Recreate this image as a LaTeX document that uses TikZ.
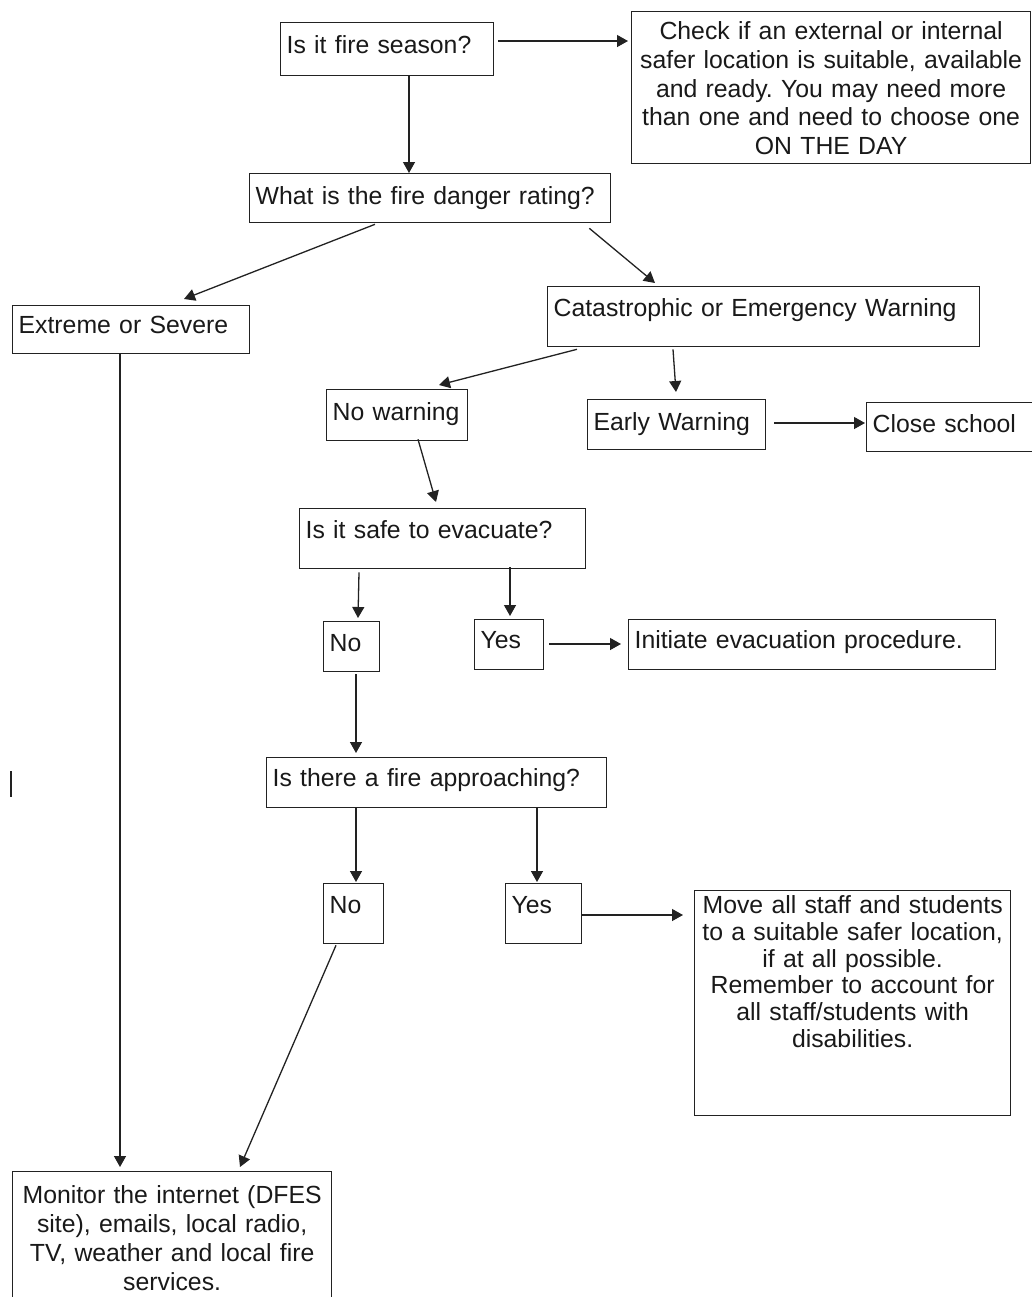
\documentclass[tikz,border=0pt]{standalone}
\usepackage{fontspec}
\setmainfont{Liberation Sans}
\usepackage{tikz}
\usetikzlibrary{calc,arrows.meta}
\definecolor{inkline}{RGB}{34,34,34}
\definecolor{inktext}{RGB}{25,25,25}
\frenchspacing

\begin{document}
\begin{tikzpicture}[x=0.5pt,y=-0.5pt,
  cell/.style={draw=inkline,line width=0.65pt,anchor=north west,inner xsep=3pt,inner ysep=0pt,
               align=left,text=inktext,font=\fontsize{12.4}{14.4}\selectfont},
  ccell/.style={cell,align=center},
  arr/.style={draw=inkline,line width=0.65pt,-{Triangle[length=5.5pt,width=6pt]}}]
  \useasboundingbox (0,0) rectangle (1032,1297);
  \node[cell,text width=100.5pt,text height=15.5pt,text depth=11pt] (season) at (280,22) {Is it fire season?};
  \node[ccell,text width=193.5pt,text height=14pt,text depth=62pt,font=\fontsize{12.4}{14.35}\selectfont] (check) at (631,11)
    {Check if an external or internal\\safer location is suitable, available\\and ready. You may need more\\than one and need to choose one\\ON THE DAY};
  \node[cell,text width=174.5pt,text height=15.5pt,text depth=9pt] (danger) at (249,173) {What is the fire danger rating?};
  \node[cell,text width=112.5pt,text height=14pt,text depth=10pt] (extreme) at (12,305) {Extreme or Severe};
  \node[cell,text width=210pt,text height=15pt,text depth=15pt] (cat) at (547,286) {Catastrophic or Emergency Warning};
  \node[cell,text width=64.5pt,text height=15.5pt,text depth=10pt] (nowarn) at (326,389) {No warning};
  \node[cell,text width=83pt,text height=15.5pt,text depth=9.5pt] (early) at (587,399) {Early Warning};
  \node[cell,text width=81pt,text height=15pt,text depth=9.5pt] (close) at (866,402) {Close school};
  \node[cell,text width=137pt,text height=15pt,text depth=15pt] (safe) at (299,508) {Is it safe to evacuate?};
  \node[cell,text width=22pt,text height=15pt,text depth=10pt] (nosafe) at (323,621) {No};
  \node[cell,text width=28.5pt,text height=14.5pt,text depth=10.5pt] (yessafe) at (474,619) {Yes};
  \node[cell,text width=177.5pt,text height=14.5pt,text depth=10.5pt] (initiate) at (628,619) {Initiate evacuation procedure.};
  \node[cell,text width=164pt,text height=14.5pt,text depth=10.5pt] (approach) at (266,757) {Is there a fire approaching?};
  \node[cell,text width=24pt,text height=15pt,text depth=15pt] (nofire) at (323,883) {No};
  \node[cell,text width=32pt,text height=15pt,text depth=15pt] (yesfire) at (505,883) {Yes};
  \node[ccell,text width=152pt,text height=11.5pt,text depth=101pt,font=\fontsize{12.4}{13.35}\selectfont] (move) at (694,890)
    {Move all staff and students\\to a suitable safer location,\\if at all possible.\\Remember to account for\\all staff/students with\\disabilities.};
  \node[ccell,text width=153.5pt,text height=16pt,text depth=54pt,font=\fontsize{12.4}{14.5}\selectfont] (monitor) at (12,1171)
    {Monitor the internet (DFES\\site), emails, local radio,\\TV, weather and local fire\\services.};
  \draw[arr] ($(season.north east)+(4,19)$) -- ($(check.north west)+(-3,30)$);
  \draw[arr] ($(season.south west)+(129,0)$) -- ($(danger.north west)+(160,0)$);
  \draw[arr] ($(danger.south west)+(126,1)$) -- ($(extreme.north west)+(172,-6)$);
  \draw[arr] ($(danger.south east)+(-22,5)$) -- ($(cat.north west)+(108,-3)$);
  \draw[arr] ($(extreme.south west)+(108,0)$) -- ($(monitor.north west)+(108,-4)$);
  \draw[arr] ($(cat.south west)+(30,2)$) -- ($(nowarn.north west)+(113,-4)$);
  \draw[arr] ($(cat.south west)+(126,2)$) -- ($(early.north west)+(89,-7)$);
  \draw[arr] ($(early.north east)+(8,24)$) -- ($(close.north west)+(-1,21)$);
  \draw[arr] ($(nowarn.south west)+(92,-2)$) -- ($(safe.north west)+(137,-6)$);
  \draw[arr] ($(safe.south west)+(60,3)$) -- ($(nosafe.north west)+(35,-3)$);
  \draw[arr] ($(safe.south west)+(211,-2)$) -- ($(yessafe.north west)+(36,-3)$);
  \draw[arr] ($(yessafe.north east)+(5,25)$) -- ($(initiate.north west)+(-7,25)$);
  \draw[arr] ($(nosafe.south west)+(33,2)$) -- ($(approach.north west)+(90,-4)$);
  \draw[arr] ($(approach.south west)+(90,0)$) -- ($(nofire.north west)+(33,-1)$);
  \draw[arr] ($(approach.south west)+(271,0)$) -- ($(yesfire.north west)+(32,-1)$);
  \draw[arr] ($(yesfire.north east)+(0,32)$) -- ($(move.north west)+(-11,25)$);
  \draw[arr] ($(nofire.south west)+(13,1)$) -- ($(monitor.north west)+(228,-4)$);
  \draw[inkline,line width=0.65pt] (11,771) -- (11,797);
\end{tikzpicture}
\end{document}
